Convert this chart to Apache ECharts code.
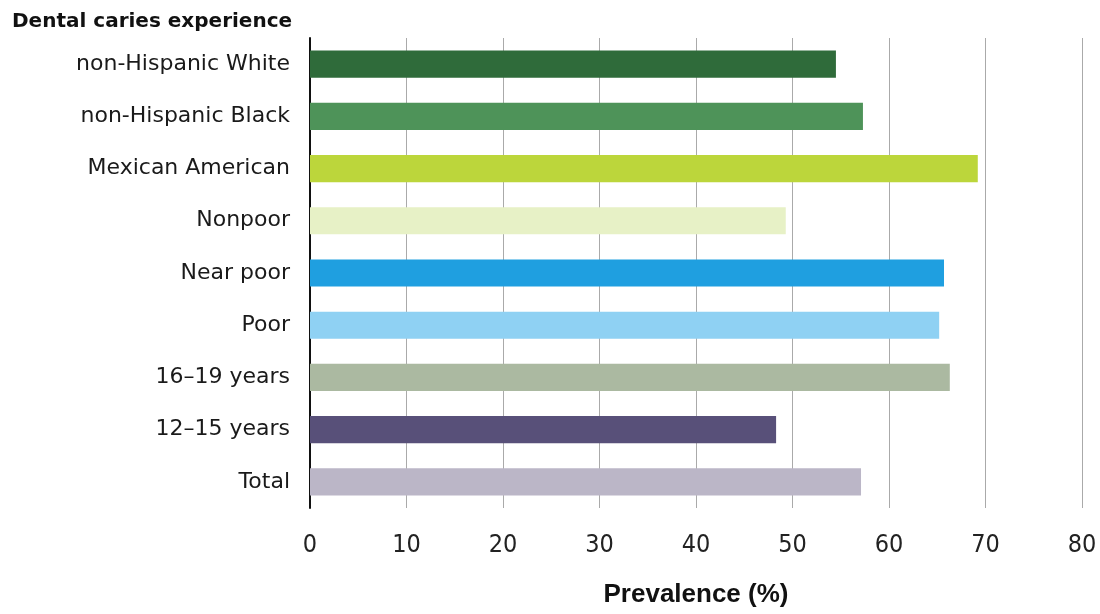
<!DOCTYPE html>
<html><head><meta charset="utf-8">
<script src="https://cdn.jsdelivr.net/npm/echarts@6/dist/echarts.min.js"></script>
<style>html,body{margin:0;padding:0;background:#fff}#c{width:1100px;height:614px}</style>
</head><body><div id="c"></div>
<script>
const categories = ["non-Hispanic White","non-Hispanic Black","Mexican American","Nonpoor","Near poor","Poor","16\u201319 years","12\u201315 years","Total"];
const values = [54.5, 57.3, 69.2, 49.3, 65.7, 65.2, 66.3, 48.3, 57.1];
const barColors = ["#2f6b3a","#4e9359","#bcd63b","#e7f1c6","#1f9fe0","#8fd1f3","#abb9a1","#585079","#bbb6c7"];
const xTicks = [0,10,20,30,40,50,60,70,80];

const chart = echarts.init(document.getElementById('c'), null, {renderer:'canvas'});
chart.setOption({
  animation:false,
  backgroundColor:'#fff',
  title:{text:'Dental caries experience', left:7, top:7,
    textStyle:{fontFamily:'DejaVu Sans', fontSize:20, fontWeight:'bold', color:'#111'}},
  grid:{left:310, right:18, top:38, bottom:106},
  xAxis:{type:'value', min:xTicks[0], max:xTicks[xTicks.length-1], interval:10,
    name:'Prevalence (%)', nameLocation:'middle', nameGap:74,
    nameTextStyle:{fontFamily:'Liberation Sans', fontSize:26, fontWeight:'bold', color:'#111'},
    axisLine:{show:false}, axisTick:{show:false},
    axisLabel:{margin:25, fontFamily:'"Liberation Sans Narrow", "DejaVu Sans Condensed", "Liberation Sans"', fontSize:25, color:'#222'},
    splitLine:{show:true, lineStyle:{color:'#aaaaaa', width:1}}},
  yAxis:{type:'category', data:categories, inverse:true,
    axisLine:{show:true, lineStyle:{color:'#111', width:2}}, axisTick:{show:false},
    axisLabel:{margin:20, fontFamily:'DejaVu Sans', fontSize:22, color:'#1a1a1a'}},
  series:[{type:'bar', barCategoryGap:'48%',
    data: values.map((v,i)=>({value:v, itemStyle:{color:barColors[i]}}))}]
});
</script></body></html>
